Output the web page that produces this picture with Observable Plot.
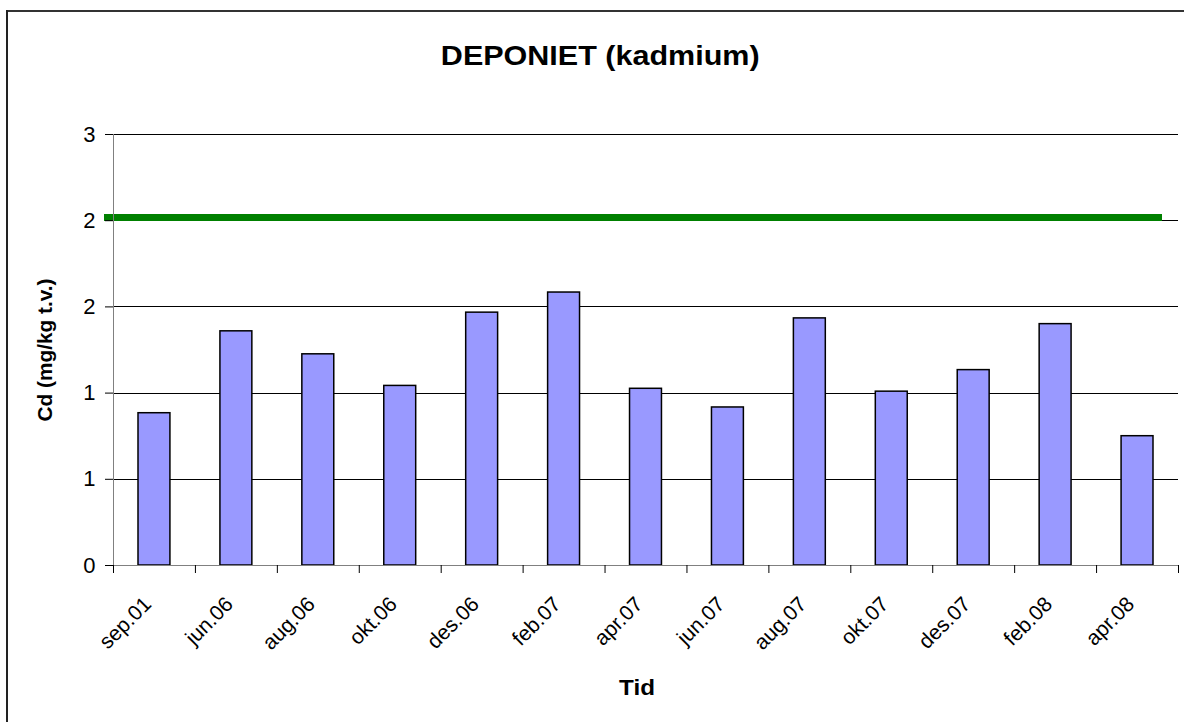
<!DOCTYPE html>
<html>
<head>
<meta charset="utf-8">
<script src="https://cdn.jsdelivr.net/npm/d3@7"></script>
<script src="https://cdn.jsdelivr.net/npm/@observablehq/plot@0.6"></script>
<style>
  html, body { margin: 0; padding: 0; background: #fff; overflow: hidden; }
  body { width: 1184px; height: 722px; position: relative; font-family: "Liberation Sans", Arial, sans-serif; }
  #frameTop { position: absolute; left: 6px; top: 10px; width: 1178px; height: 2px; background: #333; }
  #frameLeft { position: absolute; left: 6px; top: 10px; width: 2px; height: 712px; background: #222; }
  #title { position: absolute; left: 100px; width: 1000px; top: 40px; text-align: center; font-weight: bold; font-size: 28px; line-height: 32px; }
  #title span { display: inline-block; transform: scaleX(1.09); }
  #ylabel { position: absolute; left: 45px; top: 350px; transform: translate(-50%, -50%) rotate(-90deg) scaleX(1.04); font-weight: bold; font-size: 20px; white-space: nowrap; }
  #xlabel { position: absolute; left: 637px; top: 688px; transform: translate(-50%, -50%) scaleX(1.1); font-weight: bold; font-size: 22px; }
  #chart { position: absolute; left: 0; top: 0; }
  #chart svg line { shape-rendering: crispEdges; }
</style>
</head>
<body>
<div id="frameTop"></div>
<div id="frameLeft"></div>
<div id="chart"></div>
<div id="title"><span>DEPONIET (kadmium)</span></div>
<div id="ylabel">Cd (mg/kg t.v.)</div>
<div id="xlabel">Tid</div>
<script>
const categories = ["sep.01","jun.06","aug.06","okt.06","des.06","feb.07","apr.07","jun.07","aug.07","okt.07","des.07","feb.08","apr.08"];
const values = [1.06, 1.63, 1.47, 1.25, 1.76, 1.90, 1.23, 1.10, 1.72, 1.21, 1.36, 1.68, 0.90];
const limitValue = [2.42];
const yTicks = [0, 0.6, 1.2, 1.8, 2.4, 3.0];

const data = categories.map((c, i) => ({cat: c, value: values[i]}));

const W = 1184, H = 722, mL = 113, mR = 6, mT = 134, mB = 157;
const step = (W - mL - mR) / categories.length;

const chart = Plot.plot({
  width: W,
  height: H,
  marginTop: mT,
  marginBottom: mB,
  marginLeft: mL,
  marginRight: mR,
  style: {fontFamily: "'Liberation Sans', Arial, sans-serif", fontSize: "22px", background: "transparent", color: "black"},
  x: {type: "band", domain: categories, padding: 0, round: false, axis: null},
  y: {domain: [0, 3], axis: null},
  marks: [
    Plot.ruleY(yTicks.slice(1), {stroke: "#000", strokeWidth: 1}),
    Plot.barY(data, {x: "cat", y: "value", fill: "#9999ff", stroke: "#000", strokeWidth: 1.5, insetLeft: 25, insetRight: 25}),
    Plot.ruleY(limitValue, {stroke: "#008000", strokeWidth: 7, insetLeft: -9, insetRight: 16}),
    Plot.ruleY([0], {stroke: "#808080", strokeWidth: 1}),
    Plot.ruleX([categories[0]], {dx: -step / 2, stroke: "#808080", strokeWidth: 1}),
    Plot.axisY(yTicks, {tickSize: 8, tickPadding: 10, tickFormat: d3.format(".0f"), label: null, stroke: "#000", fontSize: 22}),
    Plot.axisX(categories, {tickSize: 8, tickFormat: () => "", dx: -step / 2, label: null, stroke: "#000"}),
    Plot.axisX([categories[categories.length - 1]], {tickSize: 8, tickFormat: () => "", dx: step / 2, label: null, stroke: "#000"}),
    Plot.text(categories, {x: d => d, frameAnchor: "bottom", rotate: -45, textAnchor: "end", lineAnchor: "bottom", dy: 40, dx: -2, fontSize: 21, fill: "#000"})
  ]
});
document.getElementById("chart").appendChild(chart);
</script>
</body>
</html>
